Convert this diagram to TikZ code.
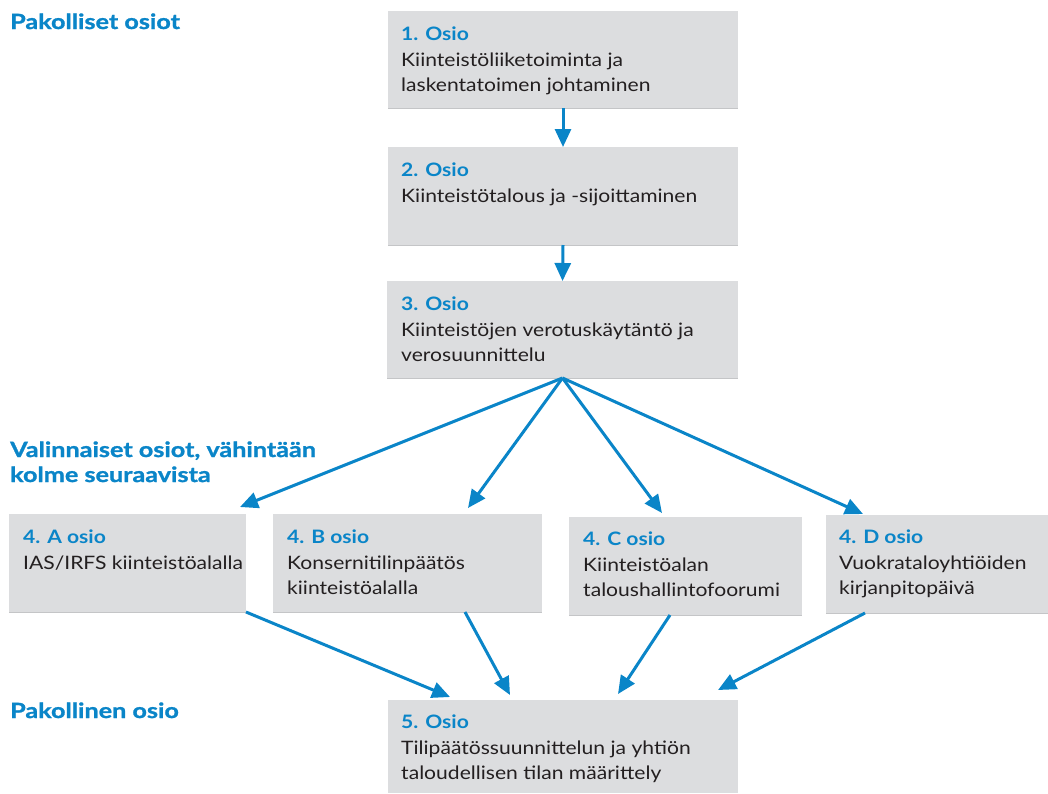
\documentclass[tikz,border=0pt]{standalone}
\usepackage{fontspec}
\setmainfont[FakeStretch=1.14]{Lato}
\newfontfamily\labelfont[FakeStretch=1.2,FakeBold=1.2]{Lato}
\usetikzlibrary{arrows.meta,calc}
\definecolor{boxgray}{HTML}{DCDDDF}
\definecolor{edgegray}{HTML}{C4C5C7}
\definecolor{osioblue}{HTML}{0A85C8}
\definecolor{bodytext}{HTML}{231F20}
\tikzset{
  box/.style={fill=boxgray, draw=none, anchor=north west, inner sep=0pt, outer sep=0pt},
  boxedge/.style={draw=edgegray, line width=1pt},
  boxtext/.style={anchor=north west, inner sep=0pt, align=left, text=bodytext, font=\fontsize{18.5}{25.5}\selectfont},
  sectionlabel/.style={anchor=base west, inner sep=0pt, align=left, text=osioblue, font=\labelfont\fontsize{21}{25}\selectfont\bfseries},
  flow/.style={draw=osioblue, line width=3pt, -{Triangle[length=18pt,width=16pt]}},
}
\newcommand{\hd}[1]{{\color{osioblue}\bfseries #1}}
\begin{document}
\begin{tikzpicture}[x=1pt,y=-1pt]
\useasboundingbox (0,0) rectangle (1048,793);
% boxes
\node[box, minimum width=350pt, minimum height=97pt] (b1) at (388,11) {};
\node[box, minimum width=350pt, minimum height=98pt] (b2) at (388,147) {};
\node[box, minimum width=351pt, minimum height=97pt] (b3) at (387,281) {};
\node[box, minimum width=237pt, minimum height=98pt] (bA) at (9,514) {};
\node[box, minimum width=269pt, minimum height=98pt] (bB) at (273,514) {};
\node[box, minimum width=233pt, minimum height=98pt] (bC) at (569,517) {};
\node[box, minimum width=222pt, minimum height=98pt] (bD) at (826,515) {};
\node[box, minimum width=350pt, minimum height=93pt] (b5) at (388,700) {};
\foreach \b in {b1,b2,b3,bA,bB,bC,bD}{
  \draw[boxedge] (\b.south west) -- (\b.south east);
}
% texts
\node[boxtext] (t1) at ($(b1.north west)+(13,16)$) {\hd{1. Osio}\\Kiinteistöliiketoiminta ja\\laskentatoimen johtaminen};
\node[boxtext] (t2) at ($(b2.north west)+(13,16)$) {\hd{2. Osio}\\Kiinteistötalous ja -sijoittaminen};
\node[boxtext] (t3) at ($(b3.north west)+(14,16)$) {\hd{3. Osio}\\Kiinteistöjen verotuskäytäntö ja\\verosuunnittelu};
\node[boxtext] (tA) at ($(bA.north west)+(14,16)$) {\hd{4. A osio}\\IAS/IRFS kiinteistöalalla};
\node[boxtext] (tB) at ($(bB.north west)+(14,16)$) {\hd{4. B osio}\\Konsernitilinpäätös\\kiinteistöalalla};
\node[boxtext] (tC) at ($(bC.north west)+(14,15)$) {\hd{4. C osio}\\Kiinteistöalan\\taloushallintofoorumi};
\node[boxtext] (tD) at ($(bD.north west)+(13,15)$) {\hd{4. D osio}\\Vuokrataloyhtiöiden\\kirjanpitopäivä};
\node[boxtext] (t5) at ($(b5.north west)+(13,15)$) {\hd{5. Osio}\\Tilipäätössuunnittelun ja yhtiön\\taloudellisen tilan määrittely};
% section labels
\node[sectionlabel] (l1) at (10,29) {Pakolliset osiot};
\node[sectionlabel] (l2) at (10,482) {Valinnaiset osiot, vähintään\\kolme seuraavista};
\node[sectionlabel] (l3) at (10,718) {Pakollinen osio};
% arrows
\draw[flow] (b1.south) -- (b2.north);
\draw[flow] (b2.south) -- (b3.north);
\coordinate (split) at (b3.south);
\draw[flow] (split) -- ($(bA.north east)+(-6,-7)$);
\draw[flow] (split) -- ($(bB.north west)+(195,-6)$);
\draw[flow] (split) -- ($(bC.north west)+(93,-4)$);
\draw[flow] (split) -- ($(bD.north west)+(37,-1)$);
\draw[flow] (bA.south east) -- ($(b5.north west)+(62,-3)$);
\draw[flow] ($(bB.south west)+(192,0)$) -- ($(b5.north west)+(122,-5)$);
\draw[flow] ($(bC.south west)+(101,0)$) -- ($(b5.north west)+(230,-6)$);
\draw[flow] ($(bD.south west)+(39,0)$) -- ($(b5.north west)+(330,-10)$);
\end{tikzpicture}
\end{document}
